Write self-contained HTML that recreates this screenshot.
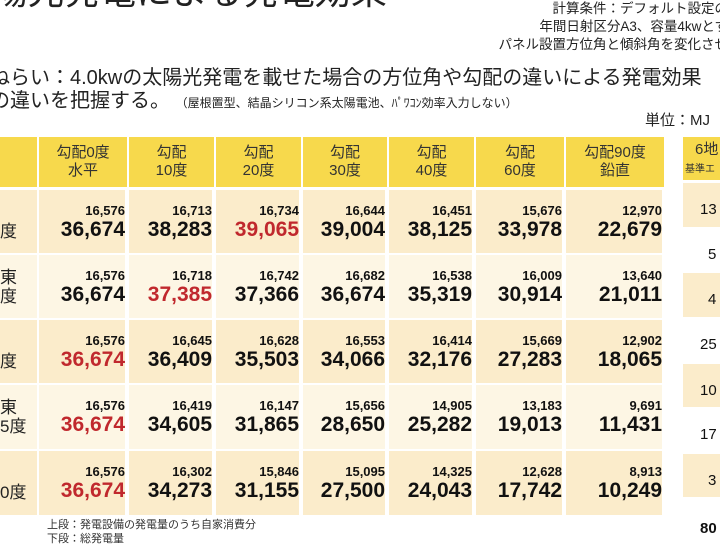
<!DOCTYPE html>
<html><head><meta charset="utf-8"><style>
body{margin:0;width:720px;height:540px;overflow:hidden;background:#fff;position:relative;font-family:"Liberation Sans","Noto Sans CJK JP",sans-serif;color:#111}
.a{position:absolute;white-space:nowrap}
.h{position:absolute;top:137px;height:50px;background:#f7d94c;display:flex;align-items:center;justify-content:center;text-align:center;font-size:15px;line-height:18px;color:#333}
.c{position:absolute;text-align:right;font-weight:bold}
.c .s{font-size:13px;line-height:15px;margin-top:13px}
.c .b{font-size:21px;line-height:24px}
.r{color:#c0282d}
.clip{position:absolute;overflow:hidden}
</style></head><body>
<div class="a" style="left:-44px;top:-28px;font-size:36px;line-height:40px;color:#222">太陽光発電による発電効果</div>
<div class="clip" style="left:480px;top:0;width:240px;height:60px">
<div class="a" style="right:-8px;top:0px;font-size:13.5px;line-height:18px;text-align:right;color:#222">計算条件：デフォルト設定の<br>年間日射区分A3、容量4kwとす<br>パネル設置方位角と傾斜角を変化させ</div></div>
<div class="clip" style="left:0;top:60px;width:720px;height:60px">
<div class="a" style="left:-10px;top:7px;font-size:20px;line-height:23px;color:#222">ねらい：4.0kwの太陽光発電を載せた場合の方位角や勾配の違いによる発電効果<br>の違いを把握する。 <span style="font-size:12px">（屋根置型、結晶シリコン系太陽電池、ﾊﾟﾜｺﾝ効率入力しない）</span></div></div>
<div class="a" style="left:645px;top:109px;font-size:15px;color:#222">単位：MJ</div>
<div class="h" style="left:0;width:37px"></div>
<div class="h" style="left:39px;width:88px">勾配0度<br>水平</div>
<div class="h" style="left:129px;width:85px">勾配<br>10度</div>
<div class="h" style="left:216px;width:85px">勾配<br>20度</div>
<div class="h" style="left:303px;width:84px">勾配<br>30度</div>
<div class="h" style="left:389px;width:85px">勾配<br>40度</div>
<div class="h" style="left:476px;width:88px">勾配<br>60度</div>
<div class="h" style="left:566px;width:98px">勾配90度<br>鉛直</div>
<div class="clip" style="left:683px;top:137px;width:37px;height:43px;background:#f7d94c;color:#333">
<div class="a" style="left:12px;top:5px;font-size:15px;line-height:16px">6地</div>
<div class="a" style="left:2px;top:23px;font-size:10px">基準エ</div></div>
<div id="t"></div>
<script>
const cols=[[39,88],[129,85],[216,85],[303,84],[389,85],[476,88],[566,98]];
const rows=[[190,63],[255,63],[320,63],[385,64],[451,64]];
const d=[
[["16,576","36,674"],["16,713","38,283"],["16,734","39,065",1],["16,644","39,004"],["16,451","38,125"],["15,676","33,978"],["12,970","22,679"]],
[["16,576","36,674"],["16,718","37,385",1],["16,742","37,366"],["16,682","36,674"],["16,538","35,319"],["16,009","30,914"],["13,640","21,011"]],
[["16,576","36,674",1],["16,645","36,409"],["16,628","35,503"],["16,553","34,066"],["16,414","32,176"],["15,669","27,283"],["12,902","18,065"]],
[["16,576","36,674",1],["16,419","34,605"],["16,147","31,865"],["15,656","28,650"],["14,905","25,282"],["13,183","19,013"],["9,691","11,431"]],
[["16,576","36,674",1],["16,302","34,273"],["15,846","31,155"],["15,095","27,500"],["14,325","24,043"],["12,628","17,742"],["8,913","10,249"]]];
const lab=[["","度"],["東","度"],["","度"],["東","5度"],["","0度"]];
let h="";
rows.forEach((r,i)=>{const bg=i%2?"#fdf6e4":"#fbeccb";
h+=`<div class="a" style="left:0;top:${r[0]}px;width:37px;height:${r[1]}px;background:${bg}"></div>`;
h+=`<div class="a" style="left:0;top:${r[0]+13}px;font-size:17px;line-height:19px;color:#222">${lab[i][0]||'&nbsp;'}<br>${lab[i][1]}</div>`;
cols.forEach((c,j)=>{const v=d[i][j];
h+=`<div class="c" style="left:${c[0]}px;top:${r[0]}px;width:${c[1]-2}px;height:${r[1]}px;background:${bg}"><div class="s">${v[0]}</div><div class="b${v[2]?' r':''}">${v[1]}</div></div>`;});});
const rr=[[183,44,"13"],[228,44,"5"],[273,44,"4"],[318,45,"25"],[364,43,"10"],[408,45,"17"],[454,43,"3"],[498,42,"80"]];
rr.forEach((r,i)=>{h+=`<div class="clip" style="left:683px;top:${r[0]}px;width:37px;height:${r[1]}px;background:${i%2?'#fff':'#fbeccb'}"><div class="a" style="left:${r[2].length>1?17:25}px;top:${i==7?22:18}px;font-size:15px;${i==7?'font-weight:bold;':''}">${r[2]}</div></div>`;});
document.getElementById("t").innerHTML=h;
</script>
<div class="a" style="left:47px;top:518px;font-size:11px;line-height:14px;color:#333">上段：発電設備の発電量のうち自家消費分<br>下段：総発電量</div>
</body></html>
